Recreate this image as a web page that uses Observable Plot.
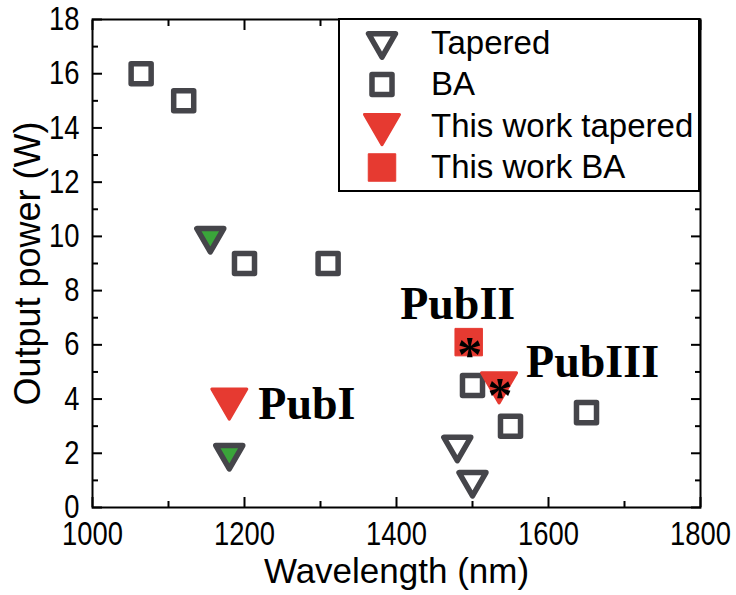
<!DOCTYPE html>
<html>
<head>
<meta charset="utf-8">
<script src="https://cdn.jsdelivr.net/npm/d3@7"></script>
<script src="https://cdn.jsdelivr.net/npm/@observablehq/plot@0.6"></script>
<style>
  body { margin: 0; background: #fff; }
  #chart svg { display: block; }
</style>
</head>
<body>
<div id="chart"></div>
<script>
// Published tapered lasers (open triangles)
const taperedWavelength = [1480, 1500];
const taperedPower = [2.3, 1.0];
// Published tapered lasers near 1.15–1.18 µm (green-filled triangles)
const taperedGreenWavelength = [1155, 1180];
const taperedGreenPower = [10, 2];
// Published broad-area (BA) lasers
const baWavelength = [1064, 1120, 1200, 1310, 1500, 1550, 1650];
const baPower = [16, 15, 9, 9, 4.5, 3, 3.5];
// This work, tapered
const ownTaperedWavelength = [1180, 1535];
const ownTaperedPower = [4.0, 4.6];
const ownTaperedLabel = ["PubI", "PubIII"];
const ownTaperedStar = [false, true];
// This work, BA
const ownBaWavelength = [1495];
const ownBaPower = [6.1];
const ownBaLabel = ["PubII"];
const ownBaStar = [true];

const xTicks = [1000, 1200, 1400, 1600, 1800];
const xMinorTicks = [1100, 1300, 1500, 1700];
const yTicks = [0, 2, 4, 6, 8, 10, 12, 14, 16, 18];
const yMinorTicks = [1, 3, 5, 7, 9, 11, 13, 15, 17];

const legendNames = ["Tapered", "BA", "This work tapered", "This work BA"];

const zip = (xs, ys, extra = {}) => xs.map((x, i) => {
  const o = {x, y: ys[i]};
  for (const k in extra) o[k] = extra[k][i];
  return o;
});

const tapered = zip(taperedWavelength, taperedPower);
const taperedGreen = zip(taperedGreenWavelength, taperedGreenPower);
const ba = zip(baWavelength, baPower);
const ownTapered = zip(ownTaperedWavelength, ownTaperedPower, {label: ownTaperedLabel, star: ownTaperedStar});
const ownBa = zip(ownBaWavelength, ownBaPower, {label: ownBaLabel, star: ownBaStar});

const GRAY = "#45454a";
const GREEN = "#3aa53a";
const RED = "#e63a31";
const SANS = "'Liberation Sans', Arial, sans-serif";
const SERIF = "'Liberation Serif', 'Times New Roman', serif";

// downward-pointing equilateral triangle, centred on its centroid
const triangleDown = {
  draw(context, size) {
    const y = Math.sqrt(size / (Math.sqrt(3) * 3));
    context.moveTo(0, 2 * y);
    context.lineTo(-Math.sqrt(3) * y, -y);
    context.lineTo(Math.sqrt(3) * y, -y);
    context.closePath();
  }
};

const plain = (d) => String(d);

const plot = Plot.plot({
  width: 736,
  height: 595,
  marginLeft: 92,
  marginRight: 36,
  marginTop: 19,
  marginBottom: 88,
  style: {fontFamily: SANS, color: "black", background: "white", overflow: "visible"},
  x: {domain: [1000, 1800]},
  y: {domain: [0, 18]},
  marks: [
    // inward ticks on all four sides
    Plot.axisX(xTicks, {anchor: "bottom", tickSize: -10, strokeWidth: 2, text: null, label: null}),
    Plot.axisX(xMinorTicks, {anchor: "bottom", tickSize: -6, strokeWidth: 2, text: null, label: null}),
    Plot.axisX(xTicks, {anchor: "top", tickSize: -10, strokeWidth: 2, text: null, label: null}),
    Plot.axisX(xMinorTicks, {anchor: "top", tickSize: -6, strokeWidth: 2, text: null, label: null}),
    Plot.axisY(yTicks, {anchor: "left", tickSize: -10, strokeWidth: 2, text: null, label: null}),
    Plot.axisY(yMinorTicks, {anchor: "left", tickSize: -6, strokeWidth: 2, text: null, label: null}),
    Plot.axisY(yTicks, {anchor: "right", tickSize: -10, strokeWidth: 2, text: null, label: null}),
    Plot.axisY(yMinorTicks, {anchor: "right", tickSize: -6, strokeWidth: 2, text: null, label: null}),
    // tick labels
    Plot.axisX(xTicks, {anchor: "bottom", tickSize: 0, tickPadding: 14, tickFormat: plain, fontSize: 33, fontFamily: SANS, fill: "black", label: null, className: "ticklabels"}),
    Plot.axisY(yTicks, {anchor: "left", tickSize: 0, tickPadding: 13, tickFormat: plain, fontSize: 33, fontFamily: SANS, fill: "black", label: null, className: "ticklabels"}),
    Plot.frame({stroke: "black", strokeWidth: 2}),
    // axis titles
    Plot.text(["Wavelength (nm)"], {frameAnchor: "bottom", dy: 64, fontSize: 35, fontFamily: SANS, fill: "black", lineAnchor: "middle"}),
    Plot.text(["Output power (W)"], {frameAnchor: "left", dx: -64, rotate: -90, fontSize: 36, fontFamily: SANS, fill: "black", lineAnchor: "middle", textAnchor: "middle"}),
    // published data
    Plot.dot(ba, {x: "x", y: "y", symbol: "square", r: 11.3, stroke: GRAY, strokeWidth: 5.5, fill: "white", strokeLinejoin: "round"}),
    Plot.dot(tapered, {x: "x", y: "y", symbol: triangleDown, r: 10, stroke: GRAY, strokeWidth: 5.5, fill: "white", strokeLinejoin: "round"}),
    Plot.dot(taperedGreen, {x: "x", y: "y", symbol: triangleDown, r: 10, stroke: GRAY, strokeWidth: 5.5, fill: GREEN, strokeLinejoin: "round"}),
    // this work
    Plot.dot(ownBa, {x: "x", y: "y", symbol: "square", r: 15.5, fill: RED, stroke: RED, strokeWidth: 1, strokeLinejoin: "round"}),
    Plot.dot(ownTapered, {x: "x", y: "y", symbol: triangleDown, r: 13, fill: RED, stroke: RED, strokeWidth: 3, strokeLinejoin: "round"}),
    Plot.text(ownBa.concat(ownTapered).filter((d) => d.star), {x: "x", y: "y", text: () => "*", fontSize: 50, fontWeight: "bold", fontFamily: SERIF, fill: "black", lineAnchor: "middle", dx: 1, dy: 13}),
    // publication labels
    Plot.text(ownTapered.filter((d) => d.label === "PubI"), {x: "x", y: "y", text: "label", fontSize: 46, fontWeight: "bold", fontFamily: SERIF, fill: "black", textAnchor: "start", lineAnchor: "middle", dx: 29, dy: 5}),
    Plot.text(ownTapered.filter((d) => d.label === "PubIII"), {x: "x", y: "y", text: "label", fontSize: 46, fontWeight: "bold", fontFamily: SERIF, fill: "black", textAnchor: "start", lineAnchor: "middle", dx: 27, dy: -21}),
    Plot.text(ownBa, {x: "x", y: "y", text: "label", fontSize: 46, fontWeight: "bold", fontFamily: SERIF, fill: "black", textAnchor: "middle", lineAnchor: "middle", dx: -11, dy: -38})
  ]
});

// legend box in the upper-right corner of the frame
const svg = d3.select(plot);
const legend = svg.append("g").attr("transform", "translate(339,19)");
legend.append("rect")
  .attr("width", 360).attr("height", 172)
  .attr("fill", "white").attr("stroke", "black").attr("stroke-width", 2);

const legendSymbols = [
  {symbol: triangleDown, size: Math.PI * 10 * 10, fill: "white", stroke: GRAY, sw: 5.5, cy: 22.5},
  {symbol: d3.symbolSquare, size: Math.PI * 11.3 * 11.3, fill: "white", stroke: GRAY, sw: 5.5, cy: 65.5},
  {symbol: triangleDown, size: Math.PI * 13 * 13, fill: RED, stroke: RED, sw: 3, cy: 105.5},
  {symbol: d3.symbolSquare, size: Math.PI * 15.5 * 15.5, fill: RED, stroke: RED, sw: 1, cy: 148.5}
];
const legendBaselines = [35, 76, 118, 159];

legendNames.forEach((name, i) => {
  const s = legendSymbols[i];
  legend.append("path")
    .attr("d", d3.symbol(s.symbol, s.size)())
    .attr("transform", `translate(43,${s.cy})`)
    .attr("fill", s.fill).attr("stroke", s.stroke)
    .attr("stroke-width", s.sw).attr("stroke-linejoin", "round");
  legend.append("text")
    .attr("x", 92).attr("y", legendBaselines[i])
    .attr("text-anchor", "start")
    .attr("font-family", SANS).attr("font-size", 33)
    .attr("fill", "black")
    .text(name);
});

document.getElementById("chart").appendChild(plot);

// tick labels use a condensed face: squeeze each label horizontally
svg.selectAll("g.ticklabels text").each(function () {
  const w = this.getComputedTextLength();
  this.setAttribute("textLength", (w * 0.83).toFixed(1));
  this.setAttribute("lengthAdjust", "spacingAndGlyphs");
});
</script>
</body>
</html>
